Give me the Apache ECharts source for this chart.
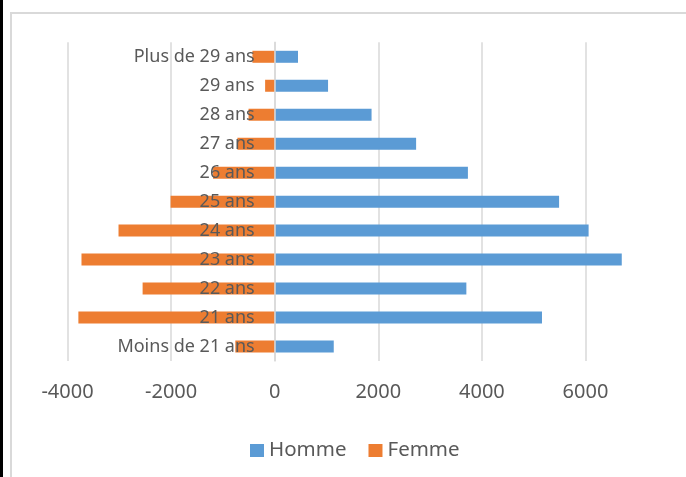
<!DOCTYPE html>
<html>
<head>
<meta charset="utf-8">
<script src="https://cdn.jsdelivr.net/npm/echarts@6/dist/echarts.min.js"></script>
<style>
  html, body { margin: 0; padding: 0; width: 686px; height: 477px; overflow: hidden; background: #fff; }
  #chart { width: 686px; height: 477px; }
</style>
</head>
<body>
<div id="chart"></div>
<script>
  // age groups, bottom to top
  const categories = ['Moins de 21 ans', '21 ans', '22 ans', '23 ans', '24 ans', '25 ans',
    '26 ans', '27 ans', '28 ans', '29 ans', 'Plus de 29 ans']
  const homme = [1140, 5160, 3700, 6700, 6060, 5490, 3730, 2730, 1870, 1030, 450]
  const femme = [-760, -3790, -2550, -3730, -3015, -2010, -1190, -720, -505, -185, -430]
  const seriesNames = ['Homme', 'Femme']

  const textColor = '#595959'
  const lineColor = '#d9d9d9'

  const chart = echarts.init(document.getElementById('chart'))
  chart.setOption({
    animation: false,
    backgroundColor: '#fff',
    textStyle: { fontFamily: '"Noto Sans", sans-serif' },
    // chart border (cropped on the right and bottom) and page edge
    graphic: [
      {
        type: 'polyline',
        silent: true,
        shape: { points: [[11, 480], [11, 13], [690, 13]] },
        style: { stroke: lineColor, lineWidth: 2, fill: null },
      },
      {
        type: 'rect',
        silent: true,
        shape: { x: 0, y: 0, width: 3, height: 477 },
        style: { fill: '#000' },
      },
    ],
    grid: {
      left: 67.5,
      right: -3.1,
      top: 42.3,
      bottom: 116,
      outerBoundsMode: 'none',
      containLabel: false,
    },
    legend: {
      data: seriesNames,
      icon: 'rect',
      left: 245,
      top: 435,
      itemWidth: 14,
      itemHeight: 13,
      itemGap: 22,
      textStyle: { color: textColor, fontSize: 20.5 },
    },
    xAxis: {
      type: 'value',
      min: -4000,
      max: 8000,
      interval: 2000,
      axisLine: { show: false },
      axisTick: { show: false },
      axisLabel: {
        color: textColor,
        fontSize: 20,
        margin: 21,
        showMaxLabel: false,
        formatter: (v) => String(v),
      },
      splitLine: { lineStyle: { color: lineColor, width: 1.5 } },
    },
    yAxis: {
      type: 'category',
      data: categories,
      z: 3,
      // sit the category axis on the zero line
      offset: -207.2,
      axisLine: { onZero: false, lineStyle: { color: lineColor, width: 1.5 } },
      axisTick: { show: false },
      axisLabel: { color: textColor, fontSize: 18, margin: 20 },
    },
    series: [
      {
        name: seriesNames[0],
        type: 'bar',
        data: homme,
        barWidth: 12,
        barGap: '-100%',
        itemStyle: { color: '#5b9bd5' },
      },
      {
        name: seriesNames[1],
        type: 'bar',
        data: femme,
        barWidth: 12,
        barGap: '-100%',
        itemStyle: { color: '#ed7d31' },
      },
    ],
  })
</script>
</body>
</html>
